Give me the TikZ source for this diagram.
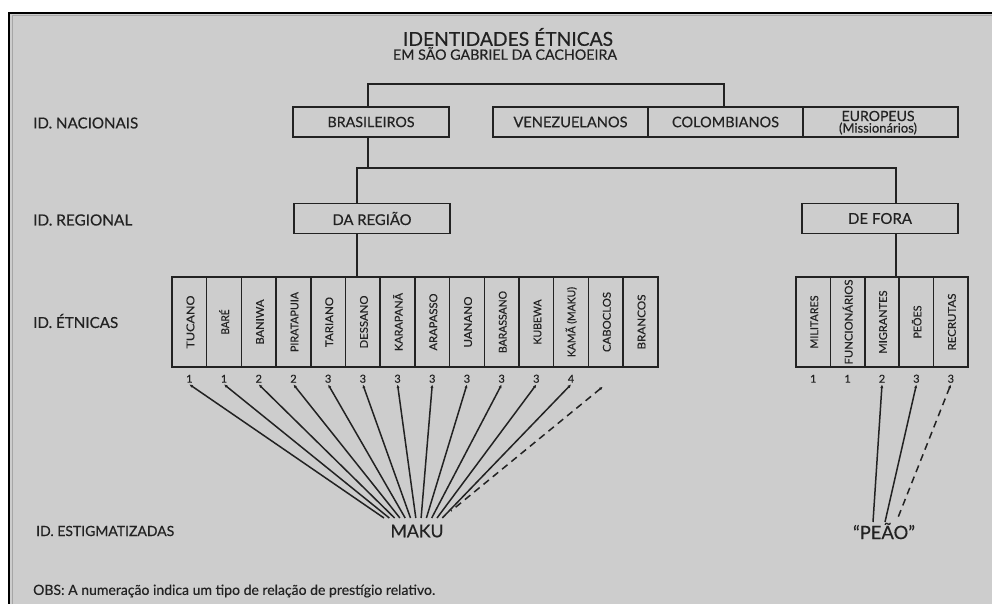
\documentclass[tikz,border=0pt]{standalone}
\usepackage{fontspec}
\setmainfont{Lato}[FakeBold=0.35]
\usepackage{graphicx}
\usetikzlibrary{arrows.meta,calc}
\definecolor{bg}{HTML}{CDCDCD}
\definecolor{ink}{HTML}{222222}
\definecolor{frameinner}{HTML}{A6A6A6}
\newcommand\fw[2]{\resizebox{#1pt}{!}{#2}}
\newcommand\fwv[2]{\resizebox{#1pt}{10pt}{\vphantom{ÉÃ}#2}}
\begin{document}
\begin{tikzpicture}[x=1pt,y=-1pt,
  box/.style={draw=ink, line width=1.6pt, minimum height=30pt, inner sep=0pt, text=ink},
  ebox/.style={draw=ink, line width=1.5pt, minimum height=90pt, inner sep=0pt},
  txt/.style={inner sep=0pt, text=ink},
  num/.style={inner sep=1.5pt, text=ink, font=\fontsize{11}{11}\selectfont},
  tree/.style={draw=ink, line width=1.8pt},
  fan/.style={draw=ink, line width=1.5pt, {Latex[length=3.5pt,width=3.2pt]}-},
  dashedfan/.style={fan, dash pattern=on 7pt off 5pt}
  ]
\useasboundingbox (0,0) rectangle (992,604);
\fill[white] (0,0) rectangle (992,604);
\fill[bg] (8,12) rectangle (992,604);
\draw[frameinner, line width=1.5pt] (12.5,604) -- (12.5,15.5) -- (992,15.5);
\draw[black, line width=2pt] (9,604) -- (9,13) -- (992,13);

% title
\node[txt] (title) at (508,37) {\fw{210}{IDENTIDADES ÉTNICAS}};
\node[txt] (sub) at (505,53.5) {\fw{224}{EM SÃO GABRIEL DA CACHOEIRA}};

% left labels
\node[txt, anchor=west] (lnac) at (33,123) {\fw{105}{ID. NACIONAIS}};
\node[txt, anchor=west] (lreg) at (33,220) {\fw{99}{ID. REGIONAL}};
\node[txt, anchor=west] (leth) at (33,321) {\fw{85}{ID. ÉTNICAS}};
\node[txt, anchor=west] (lest) at (36,531) {\fw{138}{ID. ESTIGMATIZADAS}};
\node[txt, anchor=west] (obs) at (33,591) {\fw{402}{OBS: A numeração indica um tipo de relação de prestígio relativo.}};

% national row
\node[box, minimum width=156pt] (bras) at (371,122) {\fw{87}{BRASILEIROS}};
\node[box, minimum width=155pt] (ven) at (570.5,122) {\fw{114}{VENEZUELANOS}};
\node[box, minimum width=155pt] (col) at (725.5,122) {\fw{107}{COLOMBIANOS}};
\node[box, minimum width=155pt] (eur) at (880.5,122) {};
\node[txt] (eur1) at (878,116) {\fw{73}{EUROPEUS}};
\node[txt] (eur2) at (878,128.5) {\fw{78}{(Missionários)}};

% regional row
\node[box, minimum width=156pt] (reg) at (372,218.5) {\fw{79}{DA REGIÃO}};
\node[box, minimum width=156pt] (fora) at (880,218.5) {\fw{64}{DE FORA}};

% tree connectors
\coordinate (tL) at (368,84);
\coordinate (tR) at (724,84);
\draw[tree] (bras.north -| tL) -- (tL) -- (tR) -- (col.north -| tR);
\coordinate (hB) at (368,168);
\coordinate (hL) at (357,168);
\coordinate (hR) at (896,168);
\draw[tree] (bras.south -| hB) -- (hB);
\draw[tree] (reg.north -| hL) -- (hL) -- (hR) -- (fora.north -| hR);

% ethnic boxes (left)
\foreach \t/\w [count=\i] in {TUCANO/53, BARÉ/25, BANIWA/45, PIRATAPUIA/60, TARIANO/50, DESSANO/53, KARAPANÃ/58, ARAPASSO/57, UANANO/51, BARASSANO/62, KUBEWA/45, KAMÃ (MAKU)/70, CABOCLOS/60, BRANCOS/55}{
  \node[ebox, minimum width=34.7pt] (e\i) at ({172+34.7*(\i-0.5)},322) {};
  \node[txt, rotate=90] (et\i) at (e\i) {\fwv{\w}{\t}};
}
% ethnic boxes (right)
\foreach \t/\w [count=\i] in {MILITARES/53, FUNCIONÁRIOS/85, MIGRANTES/63, PEÕES/33, RECRUTAS/57}{
  \node[ebox, minimum width=34.4pt] (r\i) at ({796+34.4*(\i-0.5)},322) {};
  \node[txt, rotate=90] (rt\i) at (r\i) {\fwv{\w}{\t}};
}
\draw[tree] (reg.south -| hL) -- (e6.north -| hL);
\draw[tree] (fora.south -| hR) -- (r3.north -| hR);

% numbers
\foreach \v [count=\i] in {1,1,2,2,3,3,3,3,3,3,3,4}{
  \node[num] (n\i) at ($(e\i.south)+(0,11)$) {\v};
}
\foreach \v [count=\i] in {1,1,2,3,3}{
  \node[num] (rn\i) at ($(r\i.south)+(0,11)$) {\v};
}

% MAKU fan
\node[txt] (maku) at (417,531) {\fw{53}{MAKU}};
\foreach \i in {1,...,12}{
  \coordinate (m\i) at ({384+5.3*(\i-1)},518);
  \draw[fan] (n\i.south) -- (m\i);
}
\coordinate (s13) at ($(e13.south)+(-3,19)$);
\coordinate (m13) at (451,511);
\draw[dashedfan] (s13) -- (m13);

% PEAO fan
\node[txt] (peao) at (884,531) {\fw{62}{“PEÃO”}};
\coordinate (p1) at (873,522);
\coordinate (p2) at (885,522);
\coordinate (p3) at (897,520);
\draw[fan] (rn3.south) -- (p1);
\draw[fan] (rn4.south) -- (p2);
\draw[dashedfan] (rn5.south) -- (p3);
\end{tikzpicture}
\end{document}
